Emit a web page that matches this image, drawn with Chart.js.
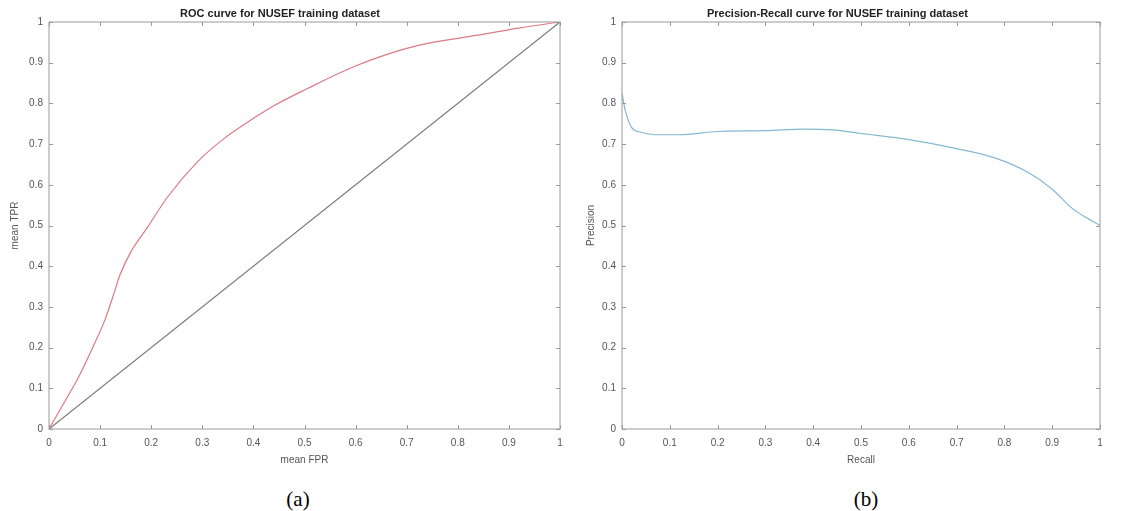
<!DOCTYPE html>
<html>
<head>
<meta charset="utf-8">
<script src="https://cdn.jsdelivr.net/npm/chart.js@4"></script>
<style>
body { margin: 0; background: #fff; width: 1145px; height: 511px; position: relative; overflow: hidden; }
.box { position: absolute; top: 0; height: 475px; }
#boxA { left: 0; width: 575px; }
#boxB { left: 575px; width: 570px; }
.cap { position: absolute; top: 487px; line-height: 24px; font-family: "Liberation Serif", "Times New Roman", serif; font-size: 21px; color: #000; transform: translateX(-50%); }
</style>
</head>
<body>
<div class="box" id="boxA"><canvas id="rocChart"></canvas></div>
<div class="box" id="boxB"><canvas id="prChart"></canvas></div>
<div class="cap" style="left:298px">(a)</div>
<div class="cap" style="left:866px">(b)</div>
<script>
// ROC curve (mean FPR / mean TPR)
const rocFpr = [0, 0.032, 0.058, 0.084, 0.110, 0.126, 0.139, 0.161, 0.193, 0.232, 0.291, 0.343, 0.395, 0.447, 0.505, 0.596, 0.660, 0.725, 0.790, 0.854, 0.919, 1];
const rocTpr = [0, 0.07, 0.128, 0.196, 0.27, 0.329, 0.379, 0.437, 0.496, 0.57, 0.657, 0.714, 0.759, 0.799, 0.836, 0.890, 0.920, 0.943, 0.958, 0.971, 0.985, 1];
const chanceX = [0, 1];
const chanceY = [0, 1];

// Precision-Recall curve
const recall = [0, 0.007, 0.02, 0.04, 0.07, 0.12, 0.2, 0.3, 0.38, 0.44, 0.5, 0.6, 0.7, 0.78, 0.85, 0.9, 0.94, 0.97, 1];
const precision = [0.825, 0.782, 0.741, 0.729, 0.723, 0.723, 0.731, 0.733, 0.737, 0.735, 0.726, 0.711, 0.689, 0.666, 0.63, 0.589, 0.544, 0.52, 0.5];

Chart.defaults.font.family = '"Liberation Sans", Arial, sans-serif';
Chart.defaults.color = '#555';

function pts(xs, ys) {
    return xs.map((x, i) => ({ x: x, y: ys[i] }));
}

// tick text like matlab: 0, 0.1, ... 1
function tickText(v) {
    return String(Number(v.toFixed(1)));
}

// matlab style box with ticks pointing inward
const boxTicks = {
    id: 'boxTicks',
    afterDraw(chart) {
        const { ctx, chartArea: a, scales } = chart;
        const len = 4;
        ctx.save();
        ctx.strokeStyle = '#9a9a9a';
        ctx.lineWidth = 1;
        ctx.strokeRect(a.left, a.top, a.right - a.left, a.bottom - a.top);
        ctx.beginPath();
        scales.x.ticks.forEach(t => {
            const px = Math.round(scales.x.getPixelForValue(t.value)) + 0.5;
            ctx.moveTo(px, a.bottom); ctx.lineTo(px, a.bottom - len);
            ctx.moveTo(px, a.top); ctx.lineTo(px, a.top + len);
        });
        scales.y.ticks.forEach(t => {
            const py = Math.round(scales.y.getPixelForValue(t.value)) + 0.5;
            ctx.moveTo(a.left, py); ctx.lineTo(a.left + len, py);
            ctx.moveTo(a.right, py); ctx.lineTo(a.right - len, py);
        });
        ctx.stroke();
        ctx.restore();
    }
};

function makeOptions(title, xTitle, yTitle, yWidth, rightPad, yTitlePad) {
    return {
        responsive: true,
        maintainAspectRatio: false,
        animation: false,
        layout: { padding: { left: 0, right: rightPad, top: 0, bottom: 0 } },
        plugins: {
            legend: { display: false },
            tooltip: { enabled: false },
            title: {
                display: true,
                text: title,
                color: '#222',
                font: { size: 11, weight: 'bold' },
                padding: { top: 7, bottom: 1.8 }
            }
        },
        scales: {
            x: {
                type: 'linear', min: 0, max: 1,
                grid: { display: false, drawTicks: false },
                border: { display: false },
                ticks: { stepSize: 0.1, padding: 8, font: { size: 10 }, maxRotation: 0, callback: tickText },
                title: { display: true, text: xTitle, color: '#555', font: { size: 10 }, padding: { top: 2, bottom: 9 } },
                afterFit(scale) { scale.height = 46; }
            },
            y: {
                type: 'linear', min: 0, max: 1,
                grid: { display: false, drawTicks: false },
                border: { display: false },
                ticks: { stepSize: 0.1, padding: 6, font: { size: 10 }, callback: tickText },
                title: { display: true, text: yTitle, color: '#555', font: { size: 10 }, padding: { top: yTitlePad, bottom: 2 } },
                afterFit(scale) { scale.width = yWidth; }
            }
        }
    };
}

new Chart(document.getElementById('rocChart'), {
    type: 'scatter',
    data: {
        datasets: [{
            label: 'ROC',
            data: pts(rocFpr, rocTpr),
            showLine: true,
            borderColor: '#dc7a84',
            borderWidth: 1.2,
            pointRadius: 0,
            cubicInterpolationMode: 'monotone'
        }, {
            label: 'chance',
            data: pts(chanceX, chanceY),
            showLine: true,
            borderColor: '#7a7a7a',
            borderWidth: 1.2,
            pointRadius: 0
        }]
    },
    options: makeOptions('ROC curve for NUSEF training dataset', 'mean FPR', 'mean TPR', 49, 15, 9),
    plugins: [boxTicks]
});

new Chart(document.getElementById('prChart'), {
    type: 'scatter',
    data: {
        datasets: [{
            label: 'PR',
            data: pts(recall, precision),
            showLine: true,
            borderColor: '#86b9cf',
            borderWidth: 1.2,
            pointRadius: 0,
            cubicInterpolationMode: 'monotone'
        }]
    },
    options: makeOptions('Precision-Recall curve for NUSEF training dataset', 'Recall', 'Precision', 47, 45, 10),
    plugins: [boxTicks]
});
</script>
</body>
</html>
